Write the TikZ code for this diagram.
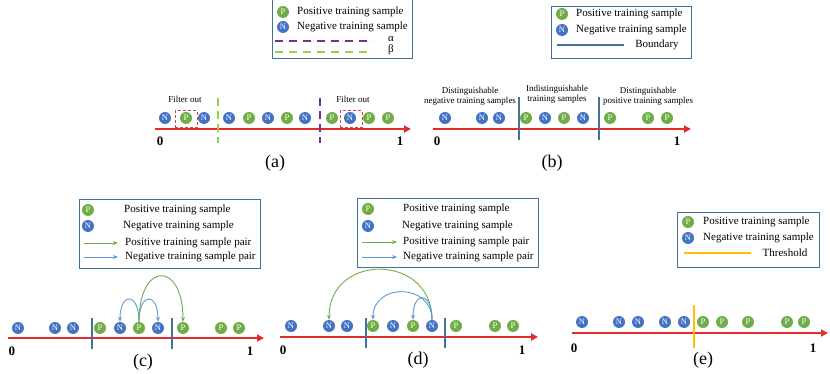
\documentclass[tikz,border=0pt]{standalone}
\usepackage{fontspec}
\setmainfont{Liberation Serif}
\usetikzlibrary{arrows.meta}

\definecolor{posgreen}{RGB}{112,173,71}
\definecolor{negblue}{RGB}{68,114,196}
\definecolor{bndblue}{RGB}{65,113,156}
\definecolor{axred}{RGB}{228,44,44}
\definecolor{boxred}{RGB}{205,70,70}
\definecolor{alphapurple}{RGB}{112,48,160}
\definecolor{betagreen}{RGB}{146,208,80}
\definecolor{pairblue}{RGB}{91,155,213}
\definecolor{thryellow}{RGB}{255,192,0}

\begin{document}
\begin{tikzpicture}[x=1pt,y=-1pt,
  smpP/.style={circle,fill=posgreen,text=white,inner sep=0pt,minimum size=12pt,font=\fontsize{8.5}{8.5}\selectfont},
  smpN/.style={circle,fill=negblue,text=white,inner sep=0pt,minimum size=12pt,font=\fontsize{8.5}{8.5}\selectfont},
  axis/.style={draw=axred,line width=2.2pt,-{Triangle[length=7pt,width=7pt]}},
  bound/.style={draw=bndblue,line width=2pt},
  legbox/.style={draw=bndblue,line width=1pt},
  legtxt/.style={anchor=west,inner sep=0pt,font=\fontsize{11}{11}\selectfont},
  smalltxt/.style={align=center,inner sep=0pt,font=\fontsize{9}{10}\selectfont},
  endlbl/.style={inner sep=0pt,font=\fontsize{13}{13}\selectfont\bfseries},
  panlbl/.style={inner sep=0pt,font=\fontsize{18}{18}\selectfont},
  fbox/.style={draw=boxred,color=boxred,dash pattern=on 3pt off 2pt,line width=1pt,minimum width=22pt,minimum height=17pt},
  parr/.style={draw=posgreen,line width=0.9pt,-{Stealth[length=5pt,width=4pt]}},
  narr/.style={draw=pairblue,line width=0.9pt,-{Stealth[length=5pt,width=4pt]}}]
  \useasboundingbox (0,0) rectangle (830,374);

  % (a) filtrado con alpha y beta
  \draw[legbox] (272,-1) rectangle (412,59);
  \node[smpP] (aLP) at (283,12) {P};
  \node[legtxt] (aLPt) at (297,12) {Positive training sample};
  \node[smpN] (aLN) at (283,27) {N};
  \node[legtxt] (aLNt) at (297,27) {Negative training sample};
  \draw[alphapurple,line width=2pt,dash pattern=on 8pt off 6pt] (275,41) -- (373,41);
  \draw[betagreen,line width=2pt,dash pattern=on 8pt off 6pt] (275,52) -- (373,52);
  \node[inner sep=0pt,font=\fontsize{11}{11}\selectfont] (aLal) at (391,39) {α};
  \node[inner sep=0pt,font=\fontsize{11}{11}\selectfont] (aLbe) at (391,50) {β};

  \coordinate (aL) at (155,129);
  \coordinate (aR) at (411,129);
  \draw[axis] (aL) -- (aR);
  \node[endlbl] (a0) at (160,141) {0};
  \node[endlbl] (a1) at (400,141) {1};
  \draw[betagreen,line width=2pt,dash pattern=on 8pt off 5pt] (218,98) -- (218,143);
  \draw[alphapurple,line width=2pt,dash pattern=on 8pt off 5pt] (320,98) -- (320,143);
  \foreach \x/\t [count=\i] in {165/N,186/P,204/N,229/N,249/P,268/N,287/P,305/N,332/P,350/N,369/P,388/P}
    \node[smp\t] (a\i) at (\x,118) {\t};
  \node[fbox] (fa1) at (186,119.5) {};
  \node[fbox] (fa2) at (351,119.5) {};
  \node[smalltxt] (fta1) at (185,99) {Filter out};
  \node[smalltxt] (fta2) at (353,99) {Filter out};
  \node[panlbl] (la) at (275,163) {(a)};

  % (b) tres zonas
  \draw[legbox] (551,7) rectangle (691,59);
  \node[smpP] (bLP) at (562,14) {P};
  \node[legtxt] (bLPt) at (576,14) {Positive training sample};
  \node[smpN] (bLN) at (562,30) {N};
  \node[legtxt] (bLNt) at (576,30) {Negative training sample};
  \draw[bound] (557,45) -- (624,45);
  \node[inner sep=0pt,font=\fontsize{11}{11}\selectfont] (bLBt) at (657,45) {Boundary};

  \coordinate (bL) at (433,129);
  \coordinate (bR) at (691,129);
  \draw[axis] (bL) -- (bR);
  \node[endlbl] (b0) at (437,141) {0};
  \node[endlbl] (b1) at (677,141) {1};
  \draw[bound] (519,97) -- (519,140);
  \draw[bound] (599,97) -- (599,140);
  \foreach \x/\t [count=\i] in {445/N,482/N,499/N,526/P,545/N,564/P,583/N,610/P,648/P,667/P}
    \node[smp\t] (b\i) at (\x,118) {\t};
  \node[smalltxt] (bz1) at (470,96.5) {Distinguishable\\negative training samples};
  \node[smalltxt] (bz2) at (557,94) {Indistinguishable\\training samples};
  \node[smalltxt] (bz3) at (648,96.5) {Distinguishable\\positive training samples};
  \node[panlbl] (lb) at (552,163) {(b)};

  % (c) pares desde una muestra positiva
  \draw[legbox] (79,200) rectangle (260,268);
  \node[smpP] (cLP) at (88,210) {P};
  \node[legtxt] (cLPt) at (124,210) {Positive training sample};
  \node[smpN] (cLN) at (88,226) {N};
  \node[legtxt] (cLNt) at (123,226) {Negative training sample};
  \coordinate (cg0) at (84,243);
  \coordinate (cg1) at (118,243);
  \draw[parr] (cg0) -- (cg1);
  \node[legtxt] (cLGt) at (125,243) {Positive training sample pair};
  \coordinate (cb0) at (84,257);
  \coordinate (cb1) at (118,257);
  \draw[narr] (cb0) -- (cb1);
  \node[legtxt] (cLBt) at (125,257) {Negative training sample pair};

  \coordinate (cL) at (8,338);
  \coordinate (cR) at (264,338);
  \draw[axis] (cL) -- (cR);
  \node[endlbl] (c0) at (12,351) {0};
  \node[endlbl] (c1) at (250,351) {1};
  \draw[bound] (92,318) -- (92,349);
  \draw[bound] (172,318) -- (172,349);
  \foreach \x/\t [count=\i] in {18/N,55/N,73/N,100/P,120/N,139/P,158/N,183/P,221/P,239/P}
    \node[smp\t] (c\i) at (\x,328) {\t};
  \draw[narr] (c6.north) .. controls +(0,-30) and +(0,-30) .. (c5.north);
  \draw[narr] (c6.north) .. controls +(0,-30) and +(0,-30) .. (c7.north);
  \draw[parr] (c6.north) .. controls +(0,-61) and +(0,-61) .. (c8.north);
  \node[panlbl] (lc) at (143,362) {(c)};

  % (d) pares desde una muestra negativa
  \draw[legbox] (357,199) rectangle (538,267);
  \node[smpP] (dLP) at (368,209) {P};
  \node[legtxt] (dLPt) at (403,209) {Positive training sample};
  \node[smpN] (dLN) at (368,226) {N};
  \node[legtxt] (dLNt) at (402,226) {Negative training sample};
  \coordinate (dg0) at (362,242);
  \coordinate (dg1) at (397,242);
  \draw[parr] (dg0) -- (dg1);
  \node[legtxt] (dLGt) at (403,242) {Positive training sample pair};
  \coordinate (db0) at (362,257);
  \coordinate (db1) at (397,257);
  \draw[narr] (db0) -- (db1);
  \node[legtxt] (dLBt) at (403,257) {Negative training sample pair};

  \coordinate (dL) at (280,337);
  \coordinate (dR) at (538,337);
  \draw[axis] (dL) -- (dR);
  \node[endlbl] (d0) at (283,350) {0};
  \node[endlbl] (d1) at (522,350) {1};
  \draw[bound] (366,318) -- (366,348);
  \draw[bound] (445,318) -- (445,348);
  \foreach \x/\t [count=\i] in {291/N,329/N,347/N,373/P,393/N,413/P,432/N,456/P,495/P,513/P}
    \node[smp\t] (d\i) at (\x,326) {\t};
  \draw[parr] (d7.north) .. controls +(0,-67) and +(0,-67) .. (d2.north);
  \draw[narr] (d7.north) .. controls +(0,-37) and +(0,-37) .. (d4.north);
  \draw[narr] (d7.north) .. controls +(0,-29) and +(0,-29) .. (d6.north);
  \node[panlbl] (ld) at (418,360) {(d)};

  % (e) umbral
  \draw[legbox] (677,213) rectangle (819,267);
  \node[smpP] (eLP) at (688,222) {P};
  \node[legtxt] (eLPt) at (703,222) {Positive training sample};
  \node[smpN] (eLN) at (688,238) {N};
  \node[legtxt] (eLNt) at (703,238) {Negative training sample};
  \draw[thryellow,line width=2pt] (684,253) -- (751,253);
  \node[inner sep=0pt,font=\fontsize{11}{11}\selectfont] (eLTt) at (785,253) {Threshold};

  \coordinate (eL) at (572,333);
  \coordinate (eR) at (828,333);
  \draw[axis] (eL) -- (eR);
  \node[endlbl] (e0) at (574,348) {0};
  \node[endlbl] (e1) at (813,348) {1};
  \draw[thryellow,line width=2pt] (694,305) -- (694,348);
  \foreach \x/\t [count=\i] in {582/N,619/N,638/N,665/N,684/N,703/P,722/P,748/P,787/P,804/P}
    \node[smp\t] (e\i) at (\x,322) {\t};
  \node[panlbl] (le) at (703,360) {(e)};
\end{tikzpicture}
\end{document}
